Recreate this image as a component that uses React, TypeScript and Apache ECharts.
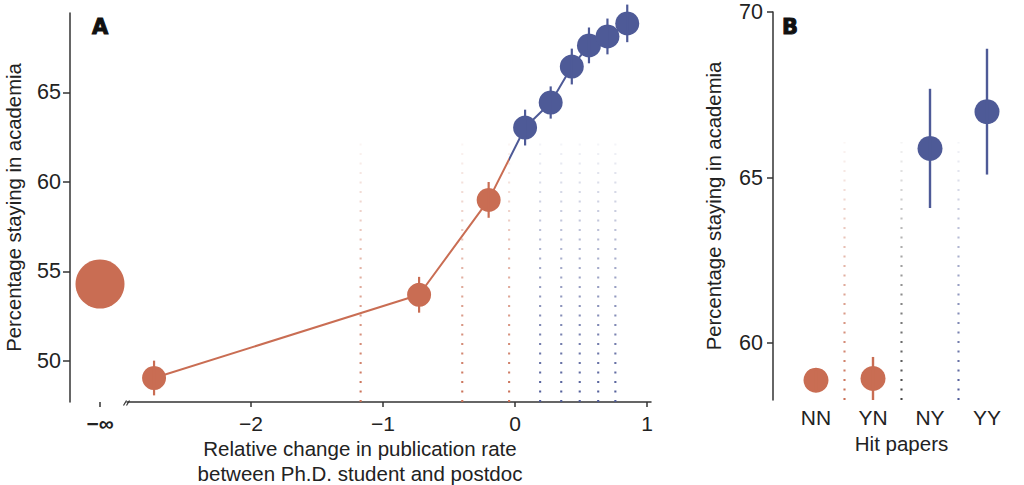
import React, { useEffect, useRef } from "react";
import * as echarts from "echarts";

const ORANGE = "#C96D53";
const BLUE = "#4E5A97";
const GRAY = "#444444";
const INK = "#222222";
const AXIS = "#333333";
const FONT = "Liberation Sans";

// ---------- Panel A ----------
const negInfCategory = ["−∞"];
const negInfValue = [54.3];
const rateChange = [-2.735, -0.727, -0.2, 0.076, 0.27, 0.43, 0.56, 0.7, 0.85];
const stayingA = [49.05, 53.7, 59.0, 63.04, 64.44, 66.45, 67.63, 68.13, 68.86];
const errorA = [0.97, 1.0, 1.0, 1.0, 0.9, 1.0, 1.0, 1.0, 1.05];
const orangeBinEdges = [-1.17, -0.4, -0.045];
const blueBinEdges = [0.19, 0.35, 0.49, 0.63, 0.76];
const colorSwitch = -0.045;
const xTicksA = [-2, -1, 0, 1];
const yTicksA = [50, 55, 60, 65];
const yMinA = 47.71;
const yMaxA = 69.44;
const binLineTopA = 62.2;

// ---------- Panel B ----------
const hitCategories = ["NN", "YN", "NY", "YY"];
const stayingB = [58.88, 58.93, 65.88, 66.99];
const errorB = [0.3, 0.65, 1.8, 1.9];
const groupB = [0, 0, 1, 1];
const yTicksB = [60, 65, 70];
const separatorColorsB = [ORANGE, GRAY, BLUE];
const yMinB = 58.28;
const yMaxB = 70;
const binLineTopB = 66.07;

function rgba(hex: string, a: number) {
  const n = parseInt(hex.slice(1), 16);
  return `rgba(${(n >> 16) & 255},${(n >> 8) & 255},${n & 255},${a})`;
}

function minus(v: number) {
  return v < 0 ? "−" + Math.abs(v) : String(v);
}

function dottedLine(x: number, yb: number, yt: number, color: string) {
  return {
    type: "line",
    shape: { x1: x, y1: yb, x2: x, y2: yt },
    style: {
      stroke: new echarts.graphic.LinearGradient(
        x,
        yb,
        x,
        yt,
        [
          { offset: 0, color: rgba(color, 1) },
          { offset: 1, color: rgba(color, 0.06) },
        ],
        true
      ),
      lineWidth: 2.1,
      lineDash: [1.9, 7.6],
    },
  };
}

export default function App() {
  const ref = useRef<HTMLDivElement>(null);
  useEffect(() => {
    if (!ref.current) return;
    const chart = echarts.init(ref.current, null, { renderer: "svg" });
    const xLabelStyle = { fontFamily: FONT, fontSize: 21, color: INK };
    const yLabelStyle = { fontFamily: FONT, fontSize: 21.5, color: INK };
    const option: any = {
      animation: false,
      backgroundColor: "#ffffff",
      textStyle: { fontFamily: FONT },
      grid: [
        { left: 70, top: 13, width: 60, height: 389 },
        { left: 127, top: 13, width: 524, height: 389 },
        { left: 787.5, top: 12, width: 228, height: 388 },
      ],
      xAxis: [
        {
          gridIndex: 0,
          type: "category",
          data: negInfCategory,
          axisLine: { show: false },
          axisTick: { show: true, alignWithLabel: true, length: 5, lineStyle: { color: AXIS, width: 1.5 } },
          axisLabel: { ...xLabelStyle, margin: 11, fontWeight: "bold" },
          splitLine: { show: false },
        },
        {
          gridIndex: 1,
          type: "value",
          min: -2.94,
          max: 1.03,
          axisLine: { show: true, onZero: false, lineStyle: { color: AXIS, width: 1.5 } },
          axisTick: { show: true, customValues: xTicksA, length: 5, lineStyle: { color: AXIS, width: 1.5 } },
          axisLabel: { ...xLabelStyle, customValues: xTicksA, formatter: minus, margin: 11 },
          splitLine: { show: false },
        },
        {
          gridIndex: 2,
          type: "category",
          data: hitCategories,
          axisLine: { show: false },
          axisTick: { show: false },
          axisLabel: { ...xLabelStyle, margin: 7 },
          splitLine: { show: false },
          name: "Hit papers",
          nameLocation: "middle",
          nameGap: 32,
          nameTextStyle: { fontFamily: FONT, fontSize: 20.5, color: INK },
        },
      ],
      yAxis: [
        {
          gridIndex: 0,
          type: "value",
          min: yMinA,
          max: yMaxA,
          axisLine: { show: true, lineStyle: { color: AXIS, width: 1.5 } },
          axisTick: { show: true, customValues: yTicksA, length: 7, lineStyle: { color: AXIS, width: 1.5 } },
          axisLabel: { ...yLabelStyle, customValues: yTicksA, margin: 9 },
          splitLine: { show: false },
          name: "Percentage staying in academia",
          nameLocation: "middle",
          nameGap: 46,
          nameTextStyle: { fontFamily: FONT, fontSize: 20.3, color: INK },
        },
        {
          gridIndex: 1,
          type: "value",
          min: yMinA,
          max: yMaxA,
          show: false,
        },
        {
          gridIndex: 2,
          type: "value",
          min: yMinB,
          max: yMaxB,
          offset: 14.5,
          axisLine: { show: true, lineStyle: { color: AXIS, width: 1.5 } },
          axisTick: { show: true, customValues: yTicksB, length: 6, lineStyle: { color: AXIS, width: 1.5 } },
          axisLabel: { ...yLabelStyle, customValues: yTicksB, margin: 10 },
          splitLine: { show: false },
          name: "Percentage staying in academia",
          nameLocation: "middle",
          nameGap: 49,
          nameTextStyle: { fontFamily: FONT, fontSize: 20.3, color: INK },
        },
      ],
      series: [
        {
          type: "scatter",
          xAxisIndex: 0,
          yAxisIndex: 0,
          data: negInfValue.map((v, i) => [i, v]),
          symbolSize: 49,
          itemStyle: { color: ORANGE, opacity: 1 },
          z: 3,
        },
        {
          type: "custom",
          xAxisIndex: 1,
          yAxisIndex: 1,
          data: [
            ...orangeBinEdges.map((x) => [x, 0]),
            ...blueBinEdges.map((x) => [x, 1]),
          ],
          renderItem: (params: any, api: any) => {
            const x = api.value(0);
            const b = api.coord([x, yMinA]);
            const t = api.coord([x, binLineTopA]);
            const c = api.value(1) === 0 ? ORANGE : BLUE;
            return dottedLine(b[0], b[1], t[1], c);
          },
          silent: true,
          z: 1,
        },
        {
          id: "trend",
          type: "line",
          xAxisIndex: 1,
          yAxisIndex: 1,
          data: rateChange.map((x, i) => [x, stayingA[i]]),
          symbol: "circle",
          symbolSize: 24,
          showSymbol: true,
          lineStyle: { width: 2, color: ORANGE },
          itemStyle: {
            opacity: 1,
            color: (p: any) => (rateChange[p.dataIndex] < colorSwitch ? ORANGE : BLUE),
          },
          z: 3,
        },
        {
          type: "custom",
          xAxisIndex: 1,
          yAxisIndex: 1,
          data: rateChange.map((x, i) => [x, stayingA[i] - errorA[i], stayingA[i] + errorA[i]]),
          renderItem: (params: any, api: any) => {
            const x = api.value(0);
            const lo = api.coord([x, api.value(1)]);
            const hi = api.coord([x, api.value(2)]);
            return {
              type: "line",
              shape: { x1: lo[0], y1: lo[1], x2: hi[0], y2: hi[1] },
              style: { stroke: x < colorSwitch ? ORANGE : BLUE, lineWidth: 2.2 },
            };
          },
          silent: true,
          z: 4,
        },
        {
          type: "custom",
          xAxisIndex: 2,
          yAxisIndex: 2,
          data: separatorColorsB.map((c, i) => [i, i]),
          renderItem: (params: any, api: any) => {
            const i = api.value(0);
            const band = api.size([1, 0])[0];
            const b = api.coord([i, yMinB]);
            const t = api.coord([i, binLineTopB]);
            return dottedLine(b[0] + band / 2, b[1], t[1], separatorColorsB[i]);
          },
          silent: true,
          z: 1,
        },
        {
          type: "scatter",
          xAxisIndex: 2,
          yAxisIndex: 2,
          data: stayingB.map((v, i) => [i, v]),
          symbolSize: 25,
          itemStyle: {
            opacity: 1,
            color: (p: any) => (groupB[p.dataIndex] === 0 ? ORANGE : BLUE),
          },
          z: 3,
        },
        {
          type: "custom",
          xAxisIndex: 2,
          yAxisIndex: 2,
          data: stayingB.map((v, i) => [i, v - errorB[i], v + errorB[i], groupB[i]]),
          renderItem: (params: any, api: any) => {
            const i = api.value(0);
            const lo = api.coord([i, api.value(1)]);
            const hi = api.coord([i, api.value(2)]);
            return {
              type: "line",
              shape: { x1: lo[0], y1: lo[1], x2: hi[0], y2: hi[1] },
              style: { stroke: api.value(3) === 0 ? ORANGE : BLUE, lineWidth: 2.4 },
            };
          },
          silent: true,
          z: 4,
        },
      ],
      graphic: [
        {
          type: "text",
          x: 100,
          y: 27,
          style: {
            text: "A",
            fontFamily: "DejaVu Sans",
            fontWeight: "bold",
            fontSize: 21,
            fill: "#111",
            stroke: "#111",
            lineWidth: 1,
            align: "center",
            verticalAlign: "middle",
          },
        },
        {
          type: "text",
          x: 790,
          y: 27,
          style: {
            text: "B",
            fontFamily: "DejaVu Sans",
            fontWeight: "bold",
            fontSize: 21,
            fill: "#111",
            stroke: "#111",
            lineWidth: 1,
            align: "center",
            verticalAlign: "middle",
          },
        },
        {
          type: "text",
          x: 360,
          y: 461,
          style: {
            text: "Relative change in publication rate\nbetween Ph.D. student and postdoc",
            fontFamily: FONT,
            fontSize: 20.5,
            lineHeight: 25,
            fill: INK,
            align: "center",
            verticalAlign: "middle",
          },
        },
        {
          type: "line",
          shape: { x1: 123.5, y1: 405.5, x2: 126.5, y2: 400.5 },
          style: { stroke: AXIS, lineWidth: 1.2 },
        },
        {
          type: "line",
          shape: { x1: 126.5, y1: 405.5, x2: 129.5, y2: 400.5 },
          style: { stroke: AXIS, lineWidth: 1.2 },
        },
      ],
    };
    chart.setOption(option);
    // colour switch of the trend line, placed through the x scale
    const first = chart.convertToPixel({ xAxisIndex: 1 }, rateChange[0]) as number;
    const last = chart.convertToPixel({ xAxisIndex: 1 }, rateChange[rateChange.length - 1]) as number;
    const sw = chart.convertToPixel({ xAxisIndex: 1 }, colorSwitch) as number;
    const f = (sw - first) / (last - first);
    chart.setOption({
      series: [
        {
          id: "trend",
          lineStyle: {
            color: new echarts.graphic.LinearGradient(0, 0, 1, 0, [
              { offset: 0, color: ORANGE },
              { offset: f, color: ORANGE },
              { offset: f, color: BLUE },
              { offset: 1, color: BLUE },
            ]),
          },
        },
      ],
    });
    return () => chart.dispose();
  }, []);
  return (
    <div
      ref={ref}
      style={{ position: "absolute", left: 0, top: 0, width: 1024, height: 485, background: "#fff" }}
    />
  );
}
